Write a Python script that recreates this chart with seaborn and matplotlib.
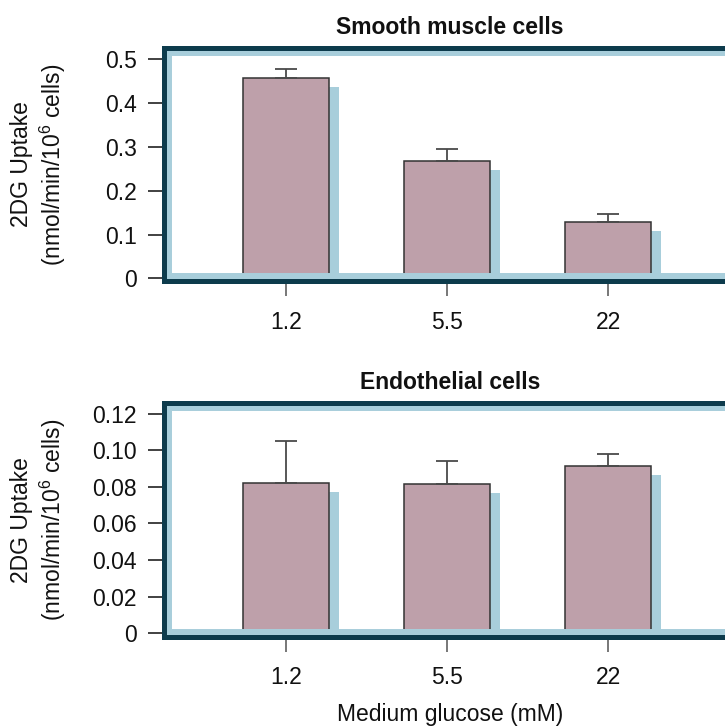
import numpy as np
import pandas as pd
import matplotlib
matplotlib.use("Agg")
import matplotlib.pyplot as plt
import seaborn as sns
from matplotlib.patches import Rectangle
from matplotlib.transforms import ScaledTranslation

# ---- data ----
glucose = ["1.2", "5.5", "22"]
smc_uptake = [0.458, 0.268, 0.128]
smc_err = [0.019, 0.027, 0.019]
endo_uptake = [0.082, 0.0814, 0.0914]
endo_err = [0.023, 0.0126, 0.0066]
smc_yticks = [0, 0.1, 0.2, 0.3, 0.4, 0.5]
smc_yticklabels = ["0", "0.1", "0.2", "0.3", "0.4", "0.5"]
endo_yticks = [0, 0.02, 0.04, 0.06, 0.08, 0.10, 0.12]
endo_yticklabels = ["0", "0.02", "0.04", "0.06", "0.08", "0.10", "0.12"]
titles = ["Smooth muscle cells", "Endothelial cells"]
ylabel = "2DG Uptake\n(nmol/min/10$^{6}$ cells)"
xlabel = "Medium glucose (mM)"

# ---- style ----
sns.set_theme(style="white")
plt.rcParams["font.family"] = ["Liberation Sans", "DejaVu Sans"]
plt.rcParams["mathtext.fontset"] = "custom"
plt.rcParams["mathtext.rm"] = "Liberation Sans"
FS = 16.5
BAR = "#bea0aa"
SHADOW = "#a8cedb"
DARK = "#0d3b4c"
LIGHT = "#a8cedb"

W, H = 725, 728
fig = plt.figure(figsize=(W / 100, H / 100), dpi=100)


def axes_px(left, top, right, bottom):
    return fig.add_axes([left / W, 1 - bottom / H, (right - left) / W, (bottom - top) / H])


ax1 = axes_px(164, 47.5, 736, 281.5)
ax2 = axes_px(164, 403, 736, 636.5)

panels = [
    (ax1, smc_uptake, smc_err, smc_yticks, smc_yticklabels, (-0.0073, 0.527)),
    (ax2, endo_uptake, endo_err, endo_yticks, endo_yticklabels, (-0.00175, 0.1258)),
]

shift = ScaledTranslation(10 / 100, -9 / 100, fig.dpi_scale_trans)

for i, (ax, vals, errs, yt, ytl, ylim) in enumerate(panels):
    df = pd.DataFrame({"glucose": glucose, "uptake": vals})
    sns.barplot(data=df, x="glucose", y="uptake", order=glucose, ax=ax,
                color=BAR, saturation=1, width=0.535, edgecolor="#333333",
                linewidth=1.1, errorbar=None, zorder=2)
    # drop shadows behind bars (same bars, offset by a fixed screen distance)
    for p in list(ax.patches):
        s = Rectangle(p.get_xy(), p.get_width(), p.get_height(),
                      transform=ax.transData + shift,
                      facecolor=SHADOW, edgecolor="none", zorder=1)
        ax.add_patch(s)
    pos = np.arange(len(glucose))
    ax.errorbar(pos, vals, yerr=[np.zeros(len(errs)), errs], fmt="none",
                ecolor="#4a4a4a", elinewidth=1.3, capsize=8, capthick=1.3, zorder=2.5)

    ax.set_xlim(-0.758, 2.795)
    ax.set_ylim(*ylim)
    ax.set_yticks(yt)
    ax.set_yticklabels(ytl)
    ax.set_xticks(pos)
    ax.set_xticklabels(glucose)
    ax.tick_params(axis="y", length=11.5, width=1.3, color="#333333", pad=8,
                   labelsize=FS, labelcolor="#111111", left=True)
    ax.tick_params(axis="x", length=11, width=1.4, color="#777777", pad=10,
                   labelsize=FS, labelcolor="#111111", bottom=True)

    # frame: light inner band + dark outer line
    band = Rectangle((0, 0), 1, 1, transform=ax.transAxes, fill=False,
                     edgecolor=LIGHT, linewidth=11.5, zorder=3)
    ax.add_patch(band)
    for sp in ax.spines.values():
        sp.set_visible(True)
        sp.set_color(DARK)
        sp.set_linewidth(3.6)
        sp.set_zorder(4)

    ax.set_title(titles[i], fontsize=FS, fontweight="bold", pad=10, color="#111111")
    ax.set_ylabel(ylabel, fontsize=FS, color="#111111", linespacing=1.2)
    ax.yaxis.set_label_coords(-0.168, 0.5)
    ax.set_xlabel("")

ax2.set_xlabel(xlabel, fontsize=FS, color="#111111", labelpad=10)

fig.savefig("out.png", dpi=100)
